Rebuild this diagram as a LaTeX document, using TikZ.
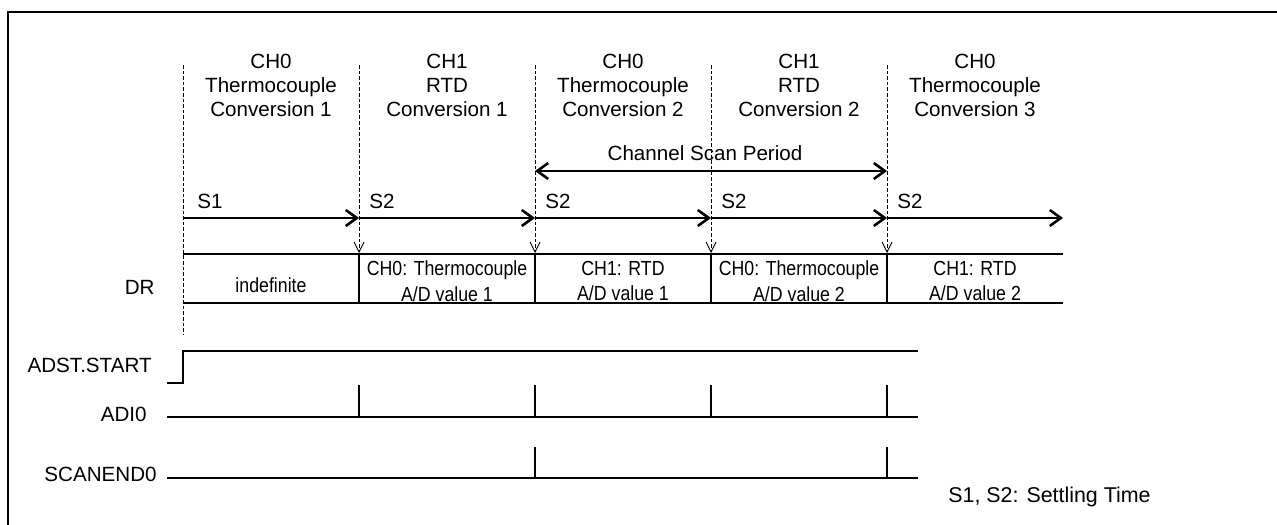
\documentclass[tikz,border=0pt]{standalone}
\usepackage{fontspec}
\setmainfont{Liberation Sans}
\newfontfamily\narrowfont[FakeStretch=0.87]{Liberation Sans}
\usetikzlibrary{arrows.meta,positioning}

\begin{document}
\begin{tikzpicture}[x=0.5pt,y=-0.5pt,>={Straight Barb[length=5.5pt,width=8pt]},
  lbl/.style={font=\fontsize{10.3}{12}\selectfont,align=center,inner sep=0pt},
  cell/.style={font=\narrowfont\fontsize{10.2}{12.8}\selectfont,align=center,inner sep=0pt},
  sig/.style={line width=0.9pt},
  tl/.style={line width=1.3pt,->},
  guide/.style={line width=0.45pt,dash pattern=on 1.8pt off 1pt}]
\useasboundingbox (0,0) rectangle (1277,524);
\draw[line width=0.9pt] (8,530) -- (8,12) -- (1285,12);

% phase boundaries on the time line
\foreach \i in {0,...,5} \coordinate (b\i) at ({183+176*\i},218);

% headers
\foreach \txt [count=\i from 0] in {{CH0\\Thermocouple\\Conversion 1},{CH1\\RTD\\Conversion 1},
    {CH0\\Thermocouple\\Conversion 2},{CH1\\RTD\\Conversion 2},{CH0\\Thermocouple\\Conversion 3}}
  \node[lbl] (hd\i) at ({271+176*\i},85) {\txt};

% guide lines
\draw[guide] (183,65) -- (183,335);
\foreach \i in {1,...,4}
  \draw[guide,-{Straight Barb[length=5pt,width=5pt]}] ({183+176*\i},65) -- ({183+176*\i},253);

% channel scan period
\coordinate (sp1) at (535,171);
\coordinate (sp2) at (887,171);
\draw[line width=1.3pt,<->] (sp1) -- (sp2);
\node[lbl] (scan) at (705,153) {Channel Scan Period};

% settling phases
\node[lbl,anchor=west] (s1) at (197,201) {S1};
\foreach \i in {1,...,4} \node[lbl,anchor=west] (s\i x) at ({193+176*\i},201) {S2};
\draw[tl] (b0) -- (b1);
\draw[tl] (b1) -- (b2);
\draw[tl] (b2) -- (b3);
\draw[tl] (b3) -- (b4);
\draw[tl] (b4) -- (b5);

% DR register
\node[lbl,anchor=east] (dr) at (155,287) {DR};
\draw[sig] (183,254) -- (1063,254);
\draw[sig] (183,303) -- (1063,303);
\foreach \i in {1,...,4} \draw[sig] ({183+176*\i},254) -- ({183+176*\i},303);
\node[cell] (c0) at (271,285) {indefinite};
\node[cell] (c1) at (447,281) {CH0: Thermocouple\\A/D value 1};
\node[cell] (c2) at (623,281) {CH1: RTD\\A/D value 1};
\node[cell] (c3) at (799,281) {CH0: Thermocouple\\A/D value 2};
\node[cell] (c4) at (975,281) {CH1: RTD\\A/D value 2};

% ADST.START
\node[lbl,anchor=east] (adst) at (152,365) {ADST.START};
\draw[sig] (167,383) -- (183,383) -- (183,351) -- (918,351);

% ADI0
\node[lbl,anchor=east] (adi) at (147,414) {ADI0};
\draw[sig] (167,417) -- (918,417);
\foreach \i in {1,...,4} \draw[sig] ({183+176*\i},417) -- ({183+176*\i},385);

% SCANEND0
\node[lbl,anchor=east] (scanend) at (157,474) {SCANEND0};
\draw[sig] (167,478) -- (918,478);
\foreach \x in {535,887} \draw[sig] (\x,478) -- (\x,447);

\node[lbl,anchor=west,font=\fontsize{10.7}{12}\selectfont] (note) at (948,497) {S1, S2: Settling Time};
\end{tikzpicture}
\end{document}
